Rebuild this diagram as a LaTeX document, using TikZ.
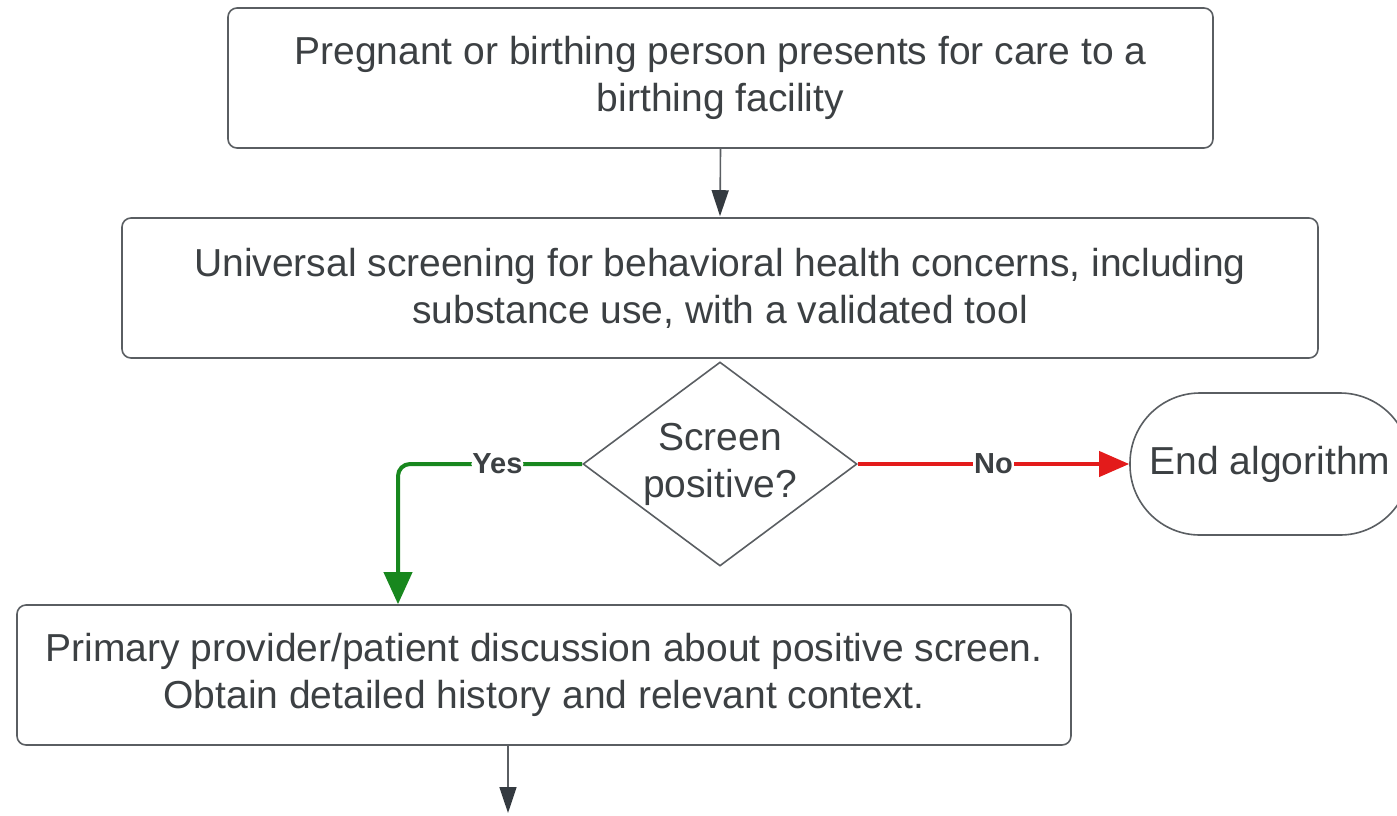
\documentclass[tikz,border=0pt]{standalone}
\usepackage{fontspec}
\setmainfont{Liberation Sans}
\usetikzlibrary{arrows.meta,shapes.geometric,calc}
\definecolor{txt}{HTML}{3C4043}
\definecolor{edge}{HTML}{5A5E62}
\definecolor{tipdark}{HTML}{343A40}
\definecolor{yesgreen}{HTML}{18871E}
\definecolor{nored}{HTML}{E31B1B}
\tikzset{
  procbox/.style={draw=edge, line width=1.6pt, rounded corners=9pt, fill=white,
    text=txt, align=center, minimum height=140pt, inner sep=0pt,
    font=\fontsize{39}{47}\selectfont},
  decision/.style={draw=edge, line width=1.6pt, diamond, aspect=1.34, fill=white,
    text=txt, align=center, minimum width=274pt, minimum height=204pt, inner sep=0pt,
    font=\fontsize{39}{47}\selectfont},
  terminal/.style={draw=edge, line width=1.6pt, rounded corners=70pt, fill=white,
    text=txt, align=center, minimum width=280pt, minimum height=142pt, inner sep=0pt,
    font=\fontsize{39}{47}\selectfont},
  flow/.style={draw=edge, line width=1.6pt,
    -{Triangle[length=26pt,width=17pt,color=tipdark]}, shorten >=1pt},
  yesflow/.style={draw=yesgreen, line width=4pt, rounded corners=12pt,
    -{Triangle[length=32pt,width=28pt]}},
  noflow/.style={draw=nored, line width=4pt, -{Triangle[length=30pt,width=25pt]}},
  edgelabel/.style={fill=white, text=txt, inner sep=1pt, font=\fontsize{29}{32}\selectfont\bfseries}
}
\begin{document}
\begin{tikzpicture}[x=1pt,y=-1pt]
  \useasboundingbox (0,0) rectangle (1397,815);
  \node[procbox, minimum width=985pt] (arrive) at (720.5,78)
    {Pregnant or birthing person presents for care to a\\birthing facility};
  \node[procbox, minimum width=1196pt] (screen) at (720,288)
    {Universal screening for behavioral health concerns, including\\substance use, with a validated tool};
  \node[decision] (positive) at (720,464) {Screen\\positive?};
  \node[terminal] (endalg) at (1270,464) {End algorithm};
  \node[procbox, minimum width=1054pt] (discuss) at (544,675)
    {Primary provider/patient discussion about positive screen.\\Obtain detailed history and relevant context.};
  \coordinate (yesturn) at (398,464);
  \coordinate (nextstep) at (508,814);

  \draw[flow] (arrive.south) -- (screen.north);
  \draw[yesflow] (positive.west) -- node[edgelabel, pos=0.46] {Yes} (yesturn) -- (yesturn |- discuss.north);
  \draw[noflow] (positive.east) -- node[edgelabel, pos=0.5] {No} (endalg.west);
  \draw[flow] (discuss.south -| nextstep) -- (nextstep);
\end{tikzpicture}
\end{document}
